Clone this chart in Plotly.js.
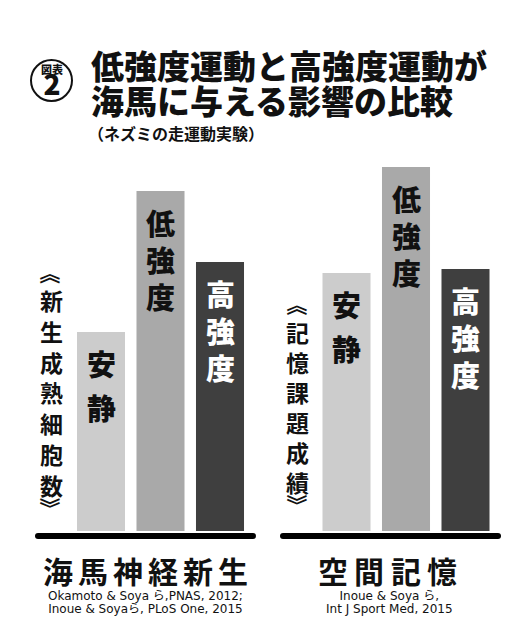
<!DOCTYPE html>
<html>
<head>
<meta charset="utf-8">
<script src="https://cdn.plot.ly/plotly-3.0.1.min.js"></script>
<style>
	html, body { margin: 0; padding: 0; background: #fff; }
	#grafico { width: 529px; height: 640px; }
</style>
</head>
<body>
<div id="grafico"></div>
<script>
// data (relative bar heights)
const grupos = ['海馬神経新生', '空間記憶'];
const condicoes = ['安静', '低強度', '高強度'];
const neurogenese = [19.9, 34.0, 26.9];
const memoria = [25.8, 36.4, 26.2];
const rotulosY = ['新生成熟細胞数', '記憶課題成績'];
const citacoes = [
	['Okamoto & Soya ら,PNAS, 2012;', 'Inoue & Soyaら, PLoS One, 2015'],
	['Inoue & Soya ら,', 'Int J Sport Med, 2015']
];
const cores = ['#cccccc', '#a9a9a9', '#3f3f3f'];
const coresTexto = ['#111', '#111', '#fff'];

const W = 529, H = 640;
const fonte = '"Noto Sans CJK JP", "Noto Sans", sans-serif';
const px = x => x / W;
const py = y => 1 - y / H;

function barra(valores, eixo) {
	return {
		type: 'bar',
		x: condicoes,
		y: valores,
		xaxis: 'x' + eixo,
		yaxis: 'y' + eixo,
		marker: { color: cores, line: { width: 0 } },
		hoverinfo: 'none'
	};
}

const data = [barra(neurogenese, ''), barra(memoria, '2')];

const annotations = [];
function texto(t, x, y, size, opts = {}) {
	annotations.push(Object.assign({
		text: t, x: px(x), y: py(y), xref: 'paper', yref: 'paper',
		xanchor: 'center', yanchor: 'middle', showarrow: false,
		font: { family: fonte, size: size, weight: 'bold', color: '#111' }
	}, opts));
}
// spans keep the glyph size while the base size sets the line pitch
const span = (t, size) => `<span style="font-size:${size}px">${t}</span>`;
const linhas = (ls, size) => ls.map(l => span(l, size)).join('<br>');

// vertical labels inside the bars, pinned to the bar tops
function rotulosBarras(valores, eixo) {
	condicoes.forEach((c, i) => {
		const passo = c.length === 2 ? 44 : 37;
		annotations.push({
			text: linhas(c.split(''), 29), x: c, y: valores[i], xref: 'x' + eixo, yref: 'y' + eixo,
			xanchor: 'center', yanchor: 'top', yshift: -8, showarrow: false,
			font: { family: fonte, size: passo / 1.3, weight: 900, color: coresTexto[i] }
		});
	});
}
rotulosBarras(neurogenese, '');
rotulosBarras(memoria, '2');

// vertical axis label, 《 》 turned to point up / down
function vertical(t, x, yTopo, passo, size) {
	const n = t.length;
	texto(linhas(t.split(''), size), x, yTopo + (n - 1) * passo / 2, passo / 1.3);
	texto('《', x, yTopo - 27, size - 2, { textangle: 90 });
	texto('》', x, yTopo + (n - 1) * passo + 23, size - 2, { textangle: 90 });
}
// one char per annotation for letter spaced labels
function espacado(t, x0, y0, dx, size) {
	t.split('').forEach((c, i) => texto(c, x0 + i * dx, y0, size));
}

// title
texto(linhas(['低強度運動と高強度運動が', '海馬に与える影響の比較'], 33), 89, 82.5, 35 / 1.3,
	{ xanchor: 'left', align: 'left', font: { family: fonte, size: 35 / 1.3, weight: 900, color: '#111' } });
texto('（ネズミの走運動実験）', 86, 133, 16, { xanchor: 'left' });
// badge
texto(span('図表', 11) + '<br>' + span('2', 28), 51.5, 82, 16,
	{ font: { family: fonte, size: 16, weight: 900, color: '#111' } });

// vertical axis labels
vertical(rotulosY[0], 51, 300, 30.8, 23);
vertical(rotulosY[1], 297.5, 332, 30, 23);

// group labels
espacado(grupos[0], 57.5, 570, 35, 30);
espacado(grupos[1], 333, 570, 36.3, 30);

// references
const fonteRef = { family: '"DejaVu Sans", "Noto Sans CJK JP", sans-serif', size: 10.2, color: '#111' };
texto(linhas(citacoes[0], 12), 145, 602.5, 10.2, { font: fonteRef });
texto(linhas(citacoes[1], 12), 389, 602.5, 10.2, { font: fonteRef });

function linhaBase(x0, x1, yc, h) {
	const r = h / 2, a = yc - r, b = yc + r;
	const p = `M${px(x0 + r)},${py(a)} L${px(x1 - r)},${py(a)} Q${px(x1)},${py(a)} ${px(x1)},${py(yc)} ` +
		`Q${px(x1)},${py(b)} ${px(x1 - r)},${py(b)} L${px(x0 + r)},${py(b)} Q${px(x0)},${py(b)} ${px(x0)},${py(yc)} ` +
		`Q${px(x0)},${py(a)} ${px(x0 + r)},${py(a)} Z`;
	return { type: 'path', path: p, xref: 'paper', yref: 'paper', fillcolor: '#000', line: { width: 0 } };
}

const shapes = [
	linhaBase(35, 256, 536, 6),
	linhaBase(280, 501, 536, 6),
	{ type: 'circle', xref: 'paper', yref: 'paper', x0: px(31), x1: px(72), y0: py(101), y1: py(60),
		line: { color: '#111', width: 2 } }
];

const eixoX = dom => ({ domain: dom, type: 'category', range: [-0.5, 2.5], visible: false, fixedrange: true });
const eixoY = anc => ({ domain: [py(531), py(131)], range: [0, 40], visible: false, anchor: anc, fixedrange: true });

const layout = {
	width: W,
	height: H,
	margin: { l: 0, r: 0, t: 0, b: 0 },
	paper_bgcolor: '#fff',
	plot_bgcolor: 'rgba(0,0,0,0)',
	showlegend: false,
	bargap: 0.193,
	xaxis: eixoX([px(71.25), px(249.75)]),
	xaxis2: eixoX([px(316.75), px(495.25)]),
	yaxis: eixoY('x'),
	yaxis2: eixoY('x2'),
	annotations: annotations,
	shapes: shapes
};

Plotly.newPlot('grafico', data, layout, { displayModeBar: false, staticPlot: true });
</script>
</body>
</html>
